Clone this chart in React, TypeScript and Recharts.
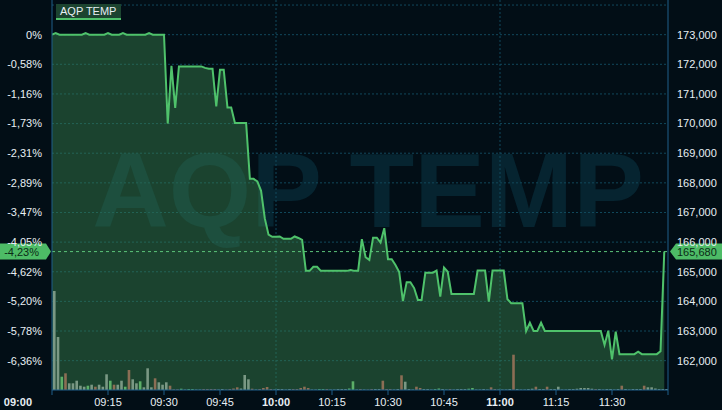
import React from 'react';
import { ComposedChart, Area, Bar, Line, XAxis, YAxis, CartesianGrid, ReferenceLine, Cell } from 'recharts';

const FONT = '"Liberation Sans", Arial, sans-serif';
const TITLE = 'AQP TEMP';
const BASE_PRICE = 173000;
const LAST_PRICE = 165680;

const timeTicks = [0, 15, 30, 45, 60, 75, 90, 105, 120, 135, 150, 165];
const timeLabels = ['09:00', '09:15', '09:30', '09:45', '10:00', '10:15', '10:30', '10:45', '11:00', '11:15', '11:30', ''];
const priceTicks = [162000, 163000, 164000, 165000, 166000, 167000, 168000, 169000, 170000, 171000, 172000, 173000, 174000];
const hourGrid = [60, 120];

// one price per minute from 09:00
const prices = [
  173000, 173050, 173000, 173000, 173000, 173000, 173000, 173000, 173000, 173050,
  173000, 173000, 173000, 173000, 173000, 173050, 173000, 173000, 173000, 173050,
  173000, 173000, 173000, 173000, 173000, 173000, 173050, 173000, 173000, 173000,
  173000, 170000, 171950, 170530, 171930, 171930, 171930, 171930, 171930, 171930,
  171930, 171880, 171850, 171850, 170580, 171820, 171820, 170545, 170545, 170020,
  170020, 170020, 170020, 168136, 168136, 168050, 167730, 166800, 166250, 166180,
  166180, 166190, 166110, 166110, 166110, 166190, 166140, 166075, 165030, 165030,
  165170, 165170, 165030, 165030, 165030, 165030, 165030, 165030, 165030, 165030,
  165060, 165030, 165030, 166100, 165490, 165400, 166150, 166150, 165985, 166470,
  165420, 165420, 165230, 164990, 164010, 164650, 164650, 164450, 164050, 164050,
  164970, 164970, 164970, 165040, 164160, 165140, 165000, 164250, 164250, 164250,
  164250, 164250, 164250, 164250, 165040, 165040, 165040, 163990, 165040, 165040,
  165040, 165040, 164070, 163940, 163940, 163940, 163940, 163000, 163280, 163000,
  163000, 163280, 163000, 163000, 163000, 163000, 163000, 163000, 163000, 163000,
  163000, 163000, 163000, 163000, 163000, 163000, 163000, 163000, 162530, 163010,
  162045, 162980, 162220, 162220, 162220, 162220, 162220, 162300, 162220, 162220,
  162220, 162220, 162220, 162320, 165680,
];

const volumes = [
  1980, 1060, 266, 334, 134, 134, 186, 86, 66, 86,
  106, 66, 106, 66, 314, 186, 106, 106, 186, 66,
  400, 214, 134, 174, 54, 434, 54, 234, 154, 106,
  154, 86, 14, 14, 26, 10, 20, 20, 10, 10,
  20, 20, 20, 20, 10, 20, 10, 20, 30, 54,
  30, 300, 214, 26, 10, 20, 40, 60, 20, 10,
  20, 20, 10, 20, 20, 20, 40, 66, 40, 10,
  10, 20, 20, 20, 10, 10, 20, 20, 20, 30,
  174, 10, 20, 10, 10, 20, 20, 20, 186, 20,
  20, 10, 20, 294, 166, 20, 10, 66, 40, 20,
  20, 10, 20, 30, 20, 10, 20, 10, 20, 20,
  20, 26, 40, 10, 10, 20, 10, 54, 20, 10,
  10, 10, 20, 706, 20, 10, 10, 20, 26, 66,
  20, 20, 66, 20, 20, 66, 10, 10, 20, 20,
  26, 40, 40, 40, 26, 20, 20, 10, 20, 20,
  10, 20, 86, 20, 10, 20, 20, 20, 86, 54,
  54, 30, 20, 20, 20,
];

// u = up (green), d = down (brown), n = unchanged
const volumeDirs = [
  'n','n','u','d','n','n','n','n','n','u',
  'n','d','n','n','n','u','d','n','n','u',
  'd','n','n','u','n','n','n','d','n','n',
  'n','d','d','d','u','n','u','u','n','n',
  'd','d','d','d','n','n','d','d','d','d',
  'n','n','n','d','n','d','d','d','d','n',
  'n','n','n','n','d','d','d','d','d','n',
  'n','u','u','d','n','n','n','n','n','u',
  'u','n','d','n','d','d','n','n','d','d',
  'd','n','n','d','n','n','n','d','d','n',
  'n','n','u','u','n','n','d','n','n','n',
  'n','u','u','n','n','n','n','d','d','n',
  'n','n','n','d','n','n','n','n','n','d',
  'n','n','d','n','n','n','n','n','n','n',
  'n','n','n','n','n','d','n','n','n','n',
  'n','n','d','n','n','n','n','n','d','n',
  'n','n','n','n','n',
];

const dirColors: Record<string, string> = { u: '#5caf68', d: '#8c6e55', n: '#7a9884' };

const data = prices.map((p, i) => ({ m: i, mb: i + 0.5, p, v: volumes[i], dir: volumeDirs[i] }));

const TEXT = '#e8eef4';
const AXIS = '#1f5f8a';
const GRID = '#11485c';
const GREEN = '#4fc26b';
const TAG = '#4dbb66';

const pctLabel = (v: number) => {
  if (v === BASE_PRICE) return '0%';
  return ((v / BASE_PRICE - 1) * 100).toFixed(2).replace('.', ',') + '%';
};
const priceLabel = (v: number) => v.toLocaleString('en-US');

const TimeTick = (props: any) => {
  const { x, y, payload } = props;
  const idx = timeTicks.indexOf(payload.value);
  const label = timeLabels[idx] ?? '';
  const bold = label.endsWith(':00');
  const first = payload.value === 0;
  return (
    <text x={first ? x - 20 : x} y={y} dy="0.71em" textAnchor={first ? 'end' : 'middle'}
      fill={TEXT} fontSize={11} fontWeight={bold ? 700 : 400} fontFamily={FONT}>{label}</text>
  );
};

const PriceTags = (props: any) => {
  const vb = props.viewBox || {};
  const x = vb.x, y = vb.y, w = vb.width;
  const h = 8;
  const r = x + w;
  return (
    <g>
      <polygon points={`${x - 52},${y - h} ${x - 6},${y - h} ${x - 1},${y} ${x - 6},${y + h} ${x - 52},${y + h}`} fill={TAG} />
      <text x={x - 13} y={y} dy="0.355em" textAnchor="end" fill="#0b2a16" fontSize={11} fontFamily={FONT}>{pctLabel(LAST_PRICE)}</text>
      <polygon points={`${r + 2},${y} ${r + 8},${y - h} ${r + 54},${y - h} ${r + 54},${y + h} ${r + 8},${y + h}`} fill={TAG} />
      <text x={r + 9} y={y} dy="0.355em" textAnchor="start" fill="#0b2a16" fontSize={11} fontFamily={FONT}>{priceLabel(LAST_PRICE)}</text>
    </g>
  );
};

export default function App() {
  return (
    <div style={{ position: 'absolute', left: 0, top: 0, width: 722, height: 410, background: '#020e16', overflow: 'hidden' }}>
      <svg width={722} height={410} style={{ position: 'absolute', left: 0, top: 0 }}>
        <text x={368} y={227} textAnchor="middle" fontFamily={FONT} fontWeight={700} fontSize={106} fill="#062430">{TITLE}</text>
      </svg>
      <div style={{ position: 'absolute', left: 0, top: 0 }}>
        <ComposedChart width={722} height={410} data={data} margin={{ top: 0, right: 0, bottom: 0, left: 0 }}>
          <CartesianGrid xAxisId="t" yAxisId="pct" horizontalValues={priceTicks} verticalValues={hourGrid}
            stroke={GRID} strokeDasharray="2 2" />
          <XAxis xAxisId="t" dataKey="m" type="number" domain={[0, 165]} ticks={timeTicks} interval={0}
            tick={<TimeTick />} tickSize={5} tickMargin={3} height={20} allowDataOverflow
            axisLine={{ stroke: AXIS }} tickLine={{ stroke: AXIS }} />
          <XAxis xAxisId="b" dataKey="mb" type="number" domain={[0, 165]} orientation="top" height={0} hide allowDataOverflow />
          <YAxis yAxisId="pct" orientation="left" width={52} domain={[161010, 174170]} ticks={priceTicks}
            interval={0} allowDataOverflow tickFormatter={(v: number) => (v === 174000 ? '' : pctLabel(v))}
            tick={{ fill: TEXT, fontSize: 11, fontFamily: FONT }} tickLine={false} tickSize={0} tickMargin={10}
            axisLine={{ stroke: AXIS }} />
          <YAxis yAxisId="right" orientation="right" width={54} domain={[161010, 174170]} ticks={priceTicks}
            interval={0} allowDataOverflow tickFormatter={(v: number) => (v === 174000 ? '' : priceLabel(v))}
            tick={{ fill: TEXT, fontSize: 11, fontFamily: FONT }} tickLine={false} tickSize={0} tickMargin={9}
            axisLine={{ stroke: AXIS }} />
          <YAxis yAxisId="vol" domain={[0, 7800]} hide allowDataOverflow />
          <Area xAxisId="t" yAxisId="pct" type="linear" dataKey="p" stroke={GREEN} strokeWidth={2}
            fill="#38834e" fillOpacity={0.46} isAnimationActive={false} dot={false} activeDot={false} />
          <Bar xAxisId="b" yAxisId="vol" dataKey="v" barSize={2.6} isAnimationActive={false}>
            {data.map((d, i) => <Cell key={i} fill={dirColors[d.dir]} />)}
          </Bar>
          <Line xAxisId="t" yAxisId="right" dataKey="p" stroke="none" dot={false} activeDot={false} isAnimationActive={false} />
          <ReferenceLine xAxisId="t" yAxisId="pct" y={LAST_PRICE} stroke="#5cc47a" strokeDasharray="3 3"
            label={<PriceTags />} />
        </ComposedChart>
      </div>
      <svg width={722} height={30} style={{ position: 'absolute', left: 0, top: 0 }}>
        <rect x={56} y={4} width={65} height={16} fill="#1c4430" />
        <rect x={56} y={18} width={65} height={2} fill={GREEN} />
        <text x={60} y={11} dy="0.355em" fill={TEXT} fontSize={11} fontFamily={FONT}>{TITLE}</text>
      </svg>
    </div>
  );
}
